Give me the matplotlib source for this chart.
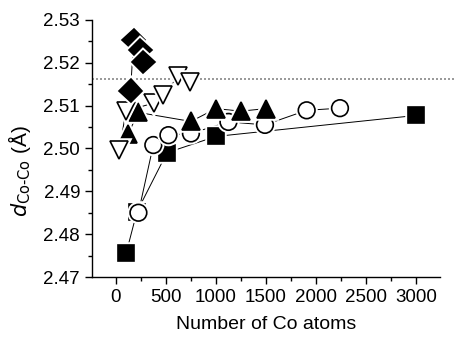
import numpy as np
import matplotlib.pyplot as plt
import matplotlib.patheffects as pe
from matplotlib.ticker import MultipleLocator

plt.rcParams['font.family'] = ['Liberation Sans', 'DejaVu Sans']

# Co-Co distances vs. cluster size, one series per model
diamond_n = [147, 176, 243, 273]
diamond_d = [2.5135, 2.5253, 2.5230, 2.5202]

vtri_n = [35, 100, 376, 474, 625, 744]
vtri_d = [2.4997, 2.5087, 2.5106, 2.5124, 2.5169, 2.5156]

tri_n = [120, 225, 750, 1000, 1250, 1500]
tri_d = [2.5033, 2.5084, 2.5063, 2.5093, 2.5087, 2.5093]

circ_n = [225, 374, 525, 750, 1125, 1490, 1907, 2240]
circ_d = [2.4850, 2.5008, 2.5031, 2.5035, 2.5062, 2.5055, 2.5089, 2.5094]

sq_n = [103, 210, 510, 1000, 3000]
sq_d = [2.4756, 2.4852, 2.4990, 2.5028, 2.5077]

bulk_d = 2.5162

fig = plt.figure(figsize=(4.55, 3.37), dpi=100)
ax = fig.add_axes([0.202, 0.178, 0.765, 0.763])

series = [
    (sq_n, sq_d, 's', 'black', 11.5),
    (circ_n, circ_d, 'o', 'white', 12),
    (tri_n, tri_d, '^', 'black', 13),
    (vtri_n, vtri_d, 'v', 'white', 13),
    (diamond_n, diamond_d, 'D', 'black', 11.5),
]

halo = [pe.withStroke(linewidth=4, foreground='white')]
for z, (n, d, m, fc, ms) in enumerate(series):
    ax.plot(n, d, color='black', lw=0.7, zorder=2)
    ax.plot(n, d, ls='none', marker=m, ms=ms, mfc=fc, mec='black', mew=1.2,
            zorder=3 + z, path_effects=halo)

ax.plot([0, 1.05], [bulk_d, bulk_d], transform=ax.get_yaxis_transform(),
        ls=(0, (1.2, 1.2)), color='#888888', lw=1.2, clip_on=False, zorder=1)

ax.set_xlim(-240, 3240)
ax.set_ylim(2.47, 2.53)
ax.set_xticks([0, 500, 1000, 1500, 2000, 2500, 3000])
ax.set_yticks(np.arange(2.47, 2.5301, 0.01))
ax.set_yticklabels(['2.47', '2.48', '2.49', '2.50', '2.51', '2.52', '2.53'])
ax.xaxis.set_minor_locator(MultipleLocator(250))
ax.yaxis.set_minor_locator(MultipleLocator(0.005))
ax.tick_params(which='major', direction='out', length=5, width=1, labelsize=13.5)
ax.tick_params(which='minor', direction='out', length=3, width=1)

for s in ['top', 'right']:
    ax.spines[s].set_visible(False)
for s in ['left', 'bottom']:
    ax.spines[s].set_linewidth(1)

ax.set_xlabel('Number of Co atoms', fontsize=14, labelpad=7)
ax.set_ylabel(r'$d_{\mathrm{Co\text{-}Co}}$ (Å)', fontsize=15)
ax.yaxis.set_label_coords(-0.17, 0.41)

fig.savefig('out.png', dpi=100)
